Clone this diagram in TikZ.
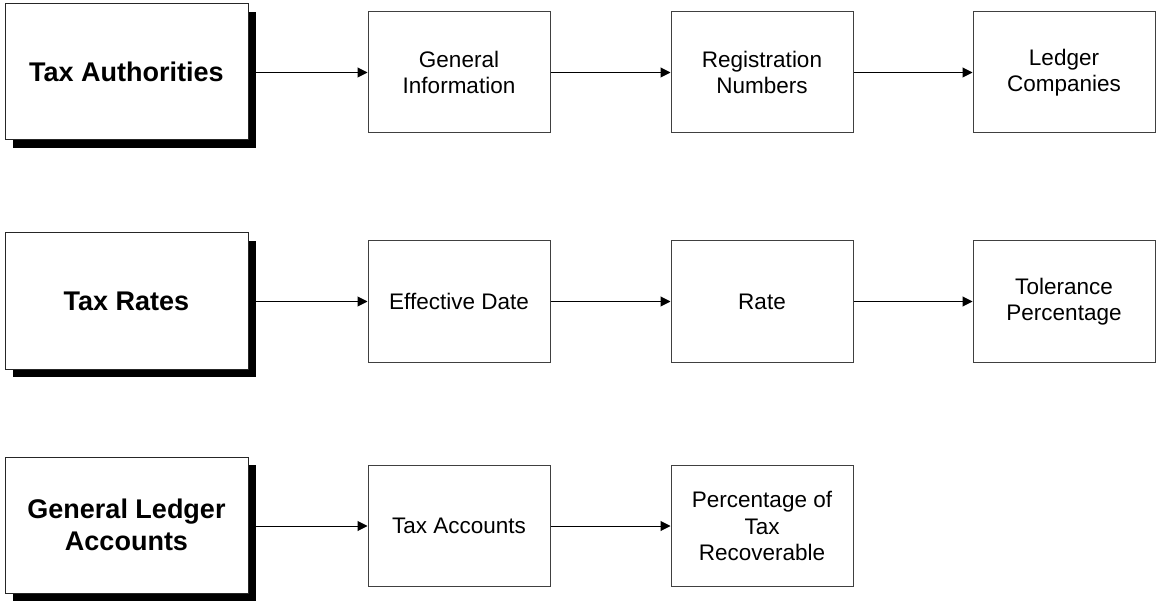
\documentclass[tikz,border=0pt]{standalone}
\usepackage{fontspec}
\setmainfont{Liberation Sans}
\usetikzlibrary{arrows.meta,positioning}
\begin{document}
\begin{tikzpicture}[x=1pt,y=-1pt,
  bigbox/.style={draw=black!85,line width=1pt,fill=white,minimum width=243pt,minimum height=136pt,inner sep=0pt,align=center,font=\fontsize{27}{32}\selectfont\bfseries},
  shadowbox/.style={fill=black,minimum width=243pt,minimum height=136pt,inner sep=0pt},
  smallbox/.style={draw=black!75,line width=1pt,fill=white,minimum width=182pt,minimum height=121pt,inner sep=0pt,align=center,font=\fontsize{22.5}{26.3}\selectfont},
  conn/.style={draw=black,line width=1pt,-{Triangle[length=10pt,width=10pt]}}
]
\useasboundingbox (0,0) rectangle (1156,601);
\fill[white] (0,0) rectangle (1156,601);
% row 1
\node[shadowbox] (s1) at (134.5,80) {};
\node[bigbox] (a1) at (126.5,72) {Tax Authorities};
\node[smallbox] (b1) at (459,72.5) {General\\Information};
\node[smallbox] (c1) at (762,72.5) {Registration\\Numbers};
\node[smallbox] (d1) at (1064,72.5) {Ledger\\Companies};
% row 2
\node[shadowbox] (s2) at (134.5,309) {};
\node[bigbox] (a2) at (126.5,301) {Tax Rates};
\node[smallbox] (b2) at (459,301.5) {Effective Date};
\node[smallbox] (c2) at (762,301.5) {Rate};
\node[smallbox] (d2) at (1064,301.5) {Tolerance\\Percentage};
% row 3
\node[shadowbox] (s3) at (134.5,533) {};
\node[bigbox] (a3) at (126.5,525) {General Ledger\\Accounts};
\node[smallbox] (b3) at (459,526) {Tax Accounts};
\node[smallbox] (c3) at (762,526) {Percentage of\\Tax\\Recoverable};
% connectors
\draw[conn] (s1.east |- b1.west) -- (b1.west);
\draw[conn] (b1) -- (c1);
\draw[conn] (c1) -- (d1);
\draw[conn] (s2.east |- b2.west) -- (b2.west);
\draw[conn] (b2) -- (c2);
\draw[conn] (c2) -- (d2);
\draw[conn] (s3.east |- b3.west) -- (b3.west);
\draw[conn] (b3) -- (c3);
\end{tikzpicture}
\end{document}
